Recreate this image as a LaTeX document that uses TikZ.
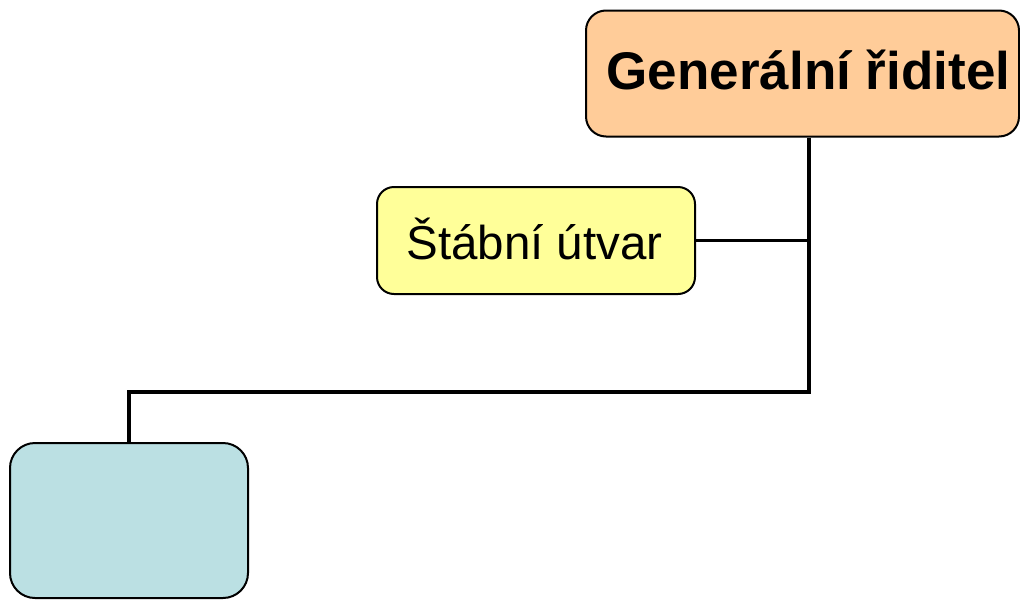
\documentclass[tikz,border=0pt]{standalone}
\usepackage{fontspec}
\setmainfont{Liberation Sans}
\definecolor{headfill}{HTML}{FFCC99}
\definecolor{stafffill}{HTML}{FFFF99}
\definecolor{deptfill}{HTML}{BBE0E3}
\begin{document}
\begin{tikzpicture}[x=1pt,y=-1pt,
  orgbox/.style={draw=black, line width=2pt, inner sep=0pt, anchor=north west},
  link/.style={draw=black, line width=3.5pt}]
\useasboundingbox (0,0) rectangle (1020,600);

% boxes of the chart
\node[orgbox, fill=headfill, rounded corners=20pt, minimum width=433pt, minimum height=126pt,
      text height=32pt, text depth=0pt] (gr) at (585,9.5)
  {\fontsize{53}{58}\selectfont\bfseries\hspace*{12pt}Generální řiditel};
\node[orgbox, fill=stafffill, rounded corners=17pt, minimum width=318pt, minimum height=107pt,
      text height=38pt, text depth=0pt] (st) at (376,186)
  {\fontsize{47.5}{52}\selectfont Štábní útvar\hspace*{3pt}};
\node[orgbox, fill=deptfill, rounded corners=25pt, minimum width=238pt, minimum height=155pt] (dp) at (9,442) {};

% branching point of the connector
\coordinate (br) at (809,392);

% connectors
\draw[link] (gr.south -| br) -- (br) -| (dp.north);
\draw[link] (st.east) -- (st.east -| br);
\end{tikzpicture}
\end{document}
